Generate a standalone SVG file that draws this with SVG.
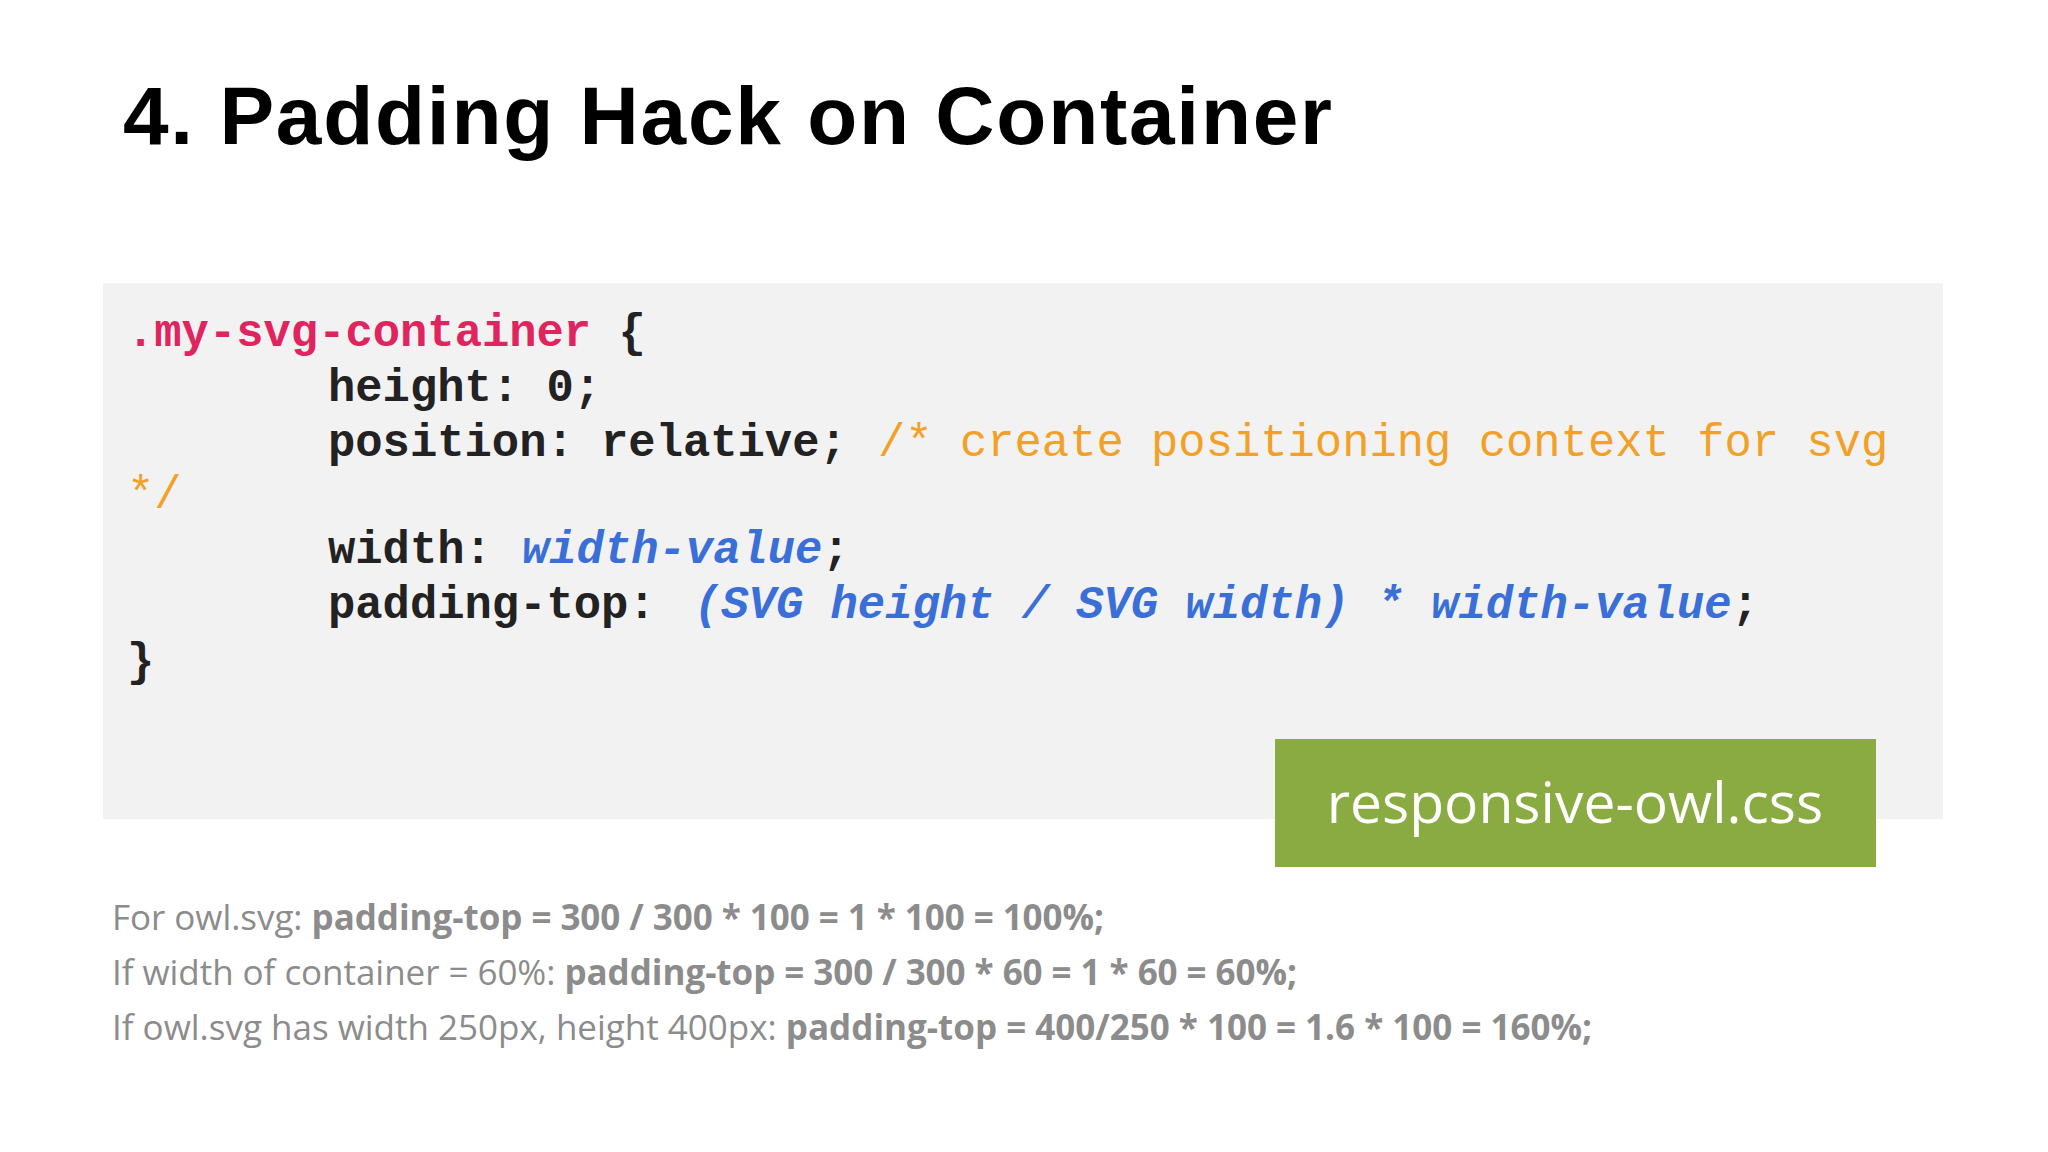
<svg xmlns="http://www.w3.org/2000/svg" width="2048" height="1152" viewBox="0 0 2048 1152">
<style>
.code{font-family:"Liberation Mono","DejaVu Sans Mono",monospace;font-weight:bold;font-size:45.5px;fill:#222;white-space:pre}
.k{fill:#e0245e}.c{fill:#f2a128;font-weight:normal}.v{fill:#3a6fd8;font-style:italic}
.n{font-family:"Open Sans","Noto Sans",sans-serif;font-size:35px;fill:#8c8c8c}
.b{font-weight:bold}
</style>
<rect width="2048" height="1152" fill="#fff"/>
<text x="123" y="144" font-family="Liberation Sans,Arial,sans-serif" font-weight="bold" font-size="82" fill="#000" textLength="1209">4. Padding Hack on Container</text>
<g id="codebox">
<rect x="103" y="283" width="1840" height="536" fill="#f2f2f3"/>
<text class="code" x="127" y="346"><tspan class="k">.my-svg-container</tspan> {</text>
<text class="code" x="328" y="401">height: 0;</text>
<text class="code" x="328" y="456">position: relative; <tspan class="c" x="878">/* create positioning context for svg</tspan></text>
<text class="code c" x="127" y="508">*/</text>
<text class="code" x="328" y="563">width: <tspan class="v" x="522">width-value</tspan>;</text>
<text class="code" x="328" y="618">padding-top: <tspan class="v" x="694">(SVG height / SVG width) * width-value</tspan>;</text>
<text class="code" x="127" y="675">}</text>
</g>
<g id="filetag">
<rect x="1275" y="739" width="601" height="128" fill="#8aab41"/>
<text x="1575" y="823" text-anchor="middle" font-family="Open Sans,Noto Sans,sans-serif" font-size="57" fill="#fff">responsive-owl.css</text>
</g>
<g id="notes">
<text class="n" x="112" y="930" textLength="992">For owl.svg: <tspan class="b">padding-top = 300 / 300 * 100 = 1 * 100 = 100%;</tspan></text>
<text class="n" x="112" y="985" textLength="1185">If width of container = 60%: <tspan class="b">padding-top = 300 / 300 * 60 = 1 * 60 = 60%;</tspan></text>
<text class="n" x="112" y="1040" textLength="1480">If owl.svg has width 250px, height 400px: <tspan class="b">padding-top = 400/250 * 100 = 1.6 * 100 = 160%;</tspan></text>
</g>
</svg>
